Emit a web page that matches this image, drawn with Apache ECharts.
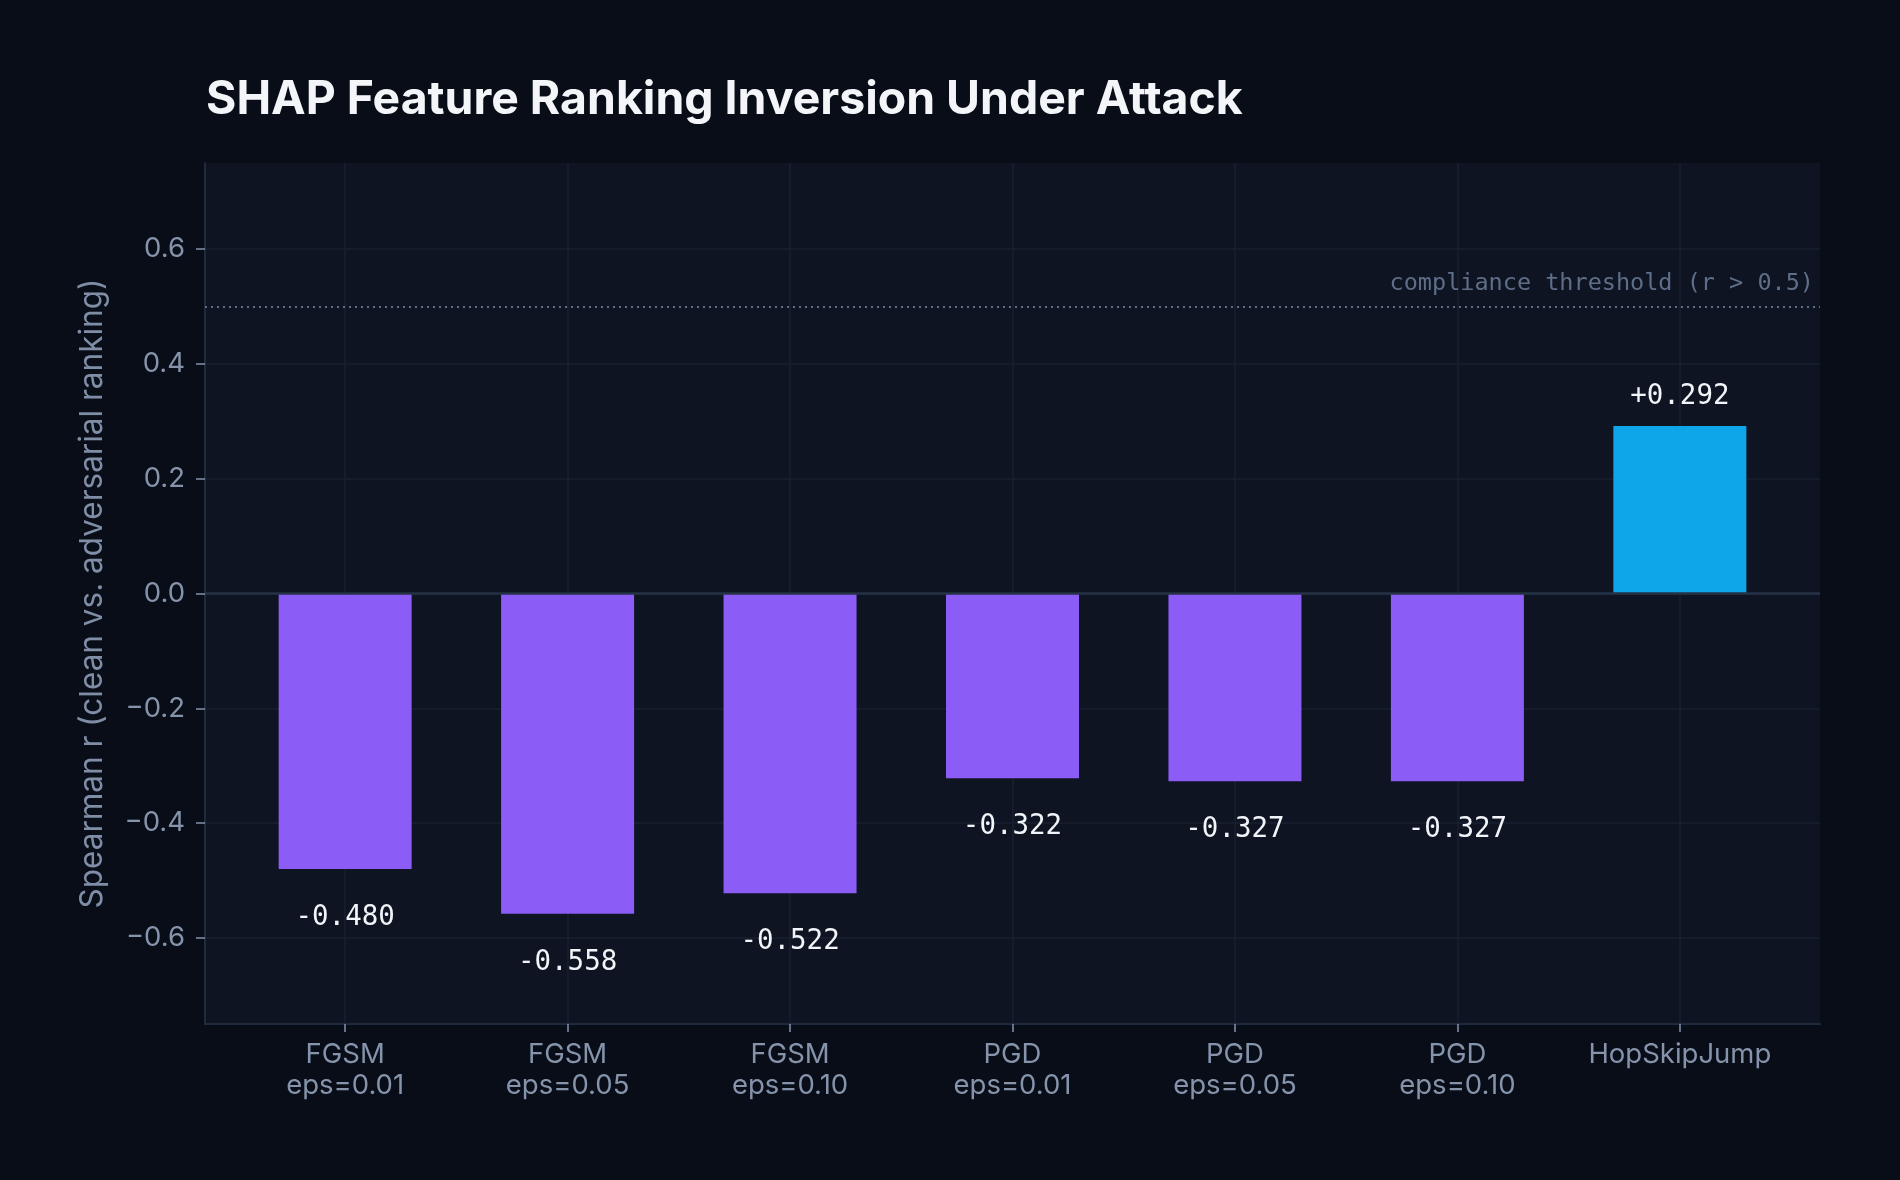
<!DOCTYPE html>
<html>
<head>
<meta charset="utf-8">
<script src="https://cdn.jsdelivr.net/npm/echarts@6/dist/echarts.min.js"></script>
<style>
html,body{margin:0;padding:0;background:#080d17;}
#chart{width:1900px;height:1180px;}
</style>
</head>
<body>
<div id="chart"></div>
<script>
const categories = ["FGSM\neps=0.01","FGSM\neps=0.05","FGSM\neps=0.10","PGD\neps=0.01","PGD\neps=0.05","PGD\neps=0.10","HopSkipJump"];
const values = [-0.480, -0.558, -0.522, -0.322, -0.327, -0.327, 0.292];
const yTicks = [-0.6, -0.4, -0.2, 0.0, 0.2, 0.4, 0.6];
const threshold = 0.5;
const titleText = "SHAP Feature Ranking Inversion Under Attack";
const yName = "Spearman r (clean vs. adversarial ranking)";
const thresholdLabel = "compliance threshold (r > 0.5)";

const xIdx = categories.map((c, i) => i);
const chart = echarts.init(document.getElementById('chart'), null, {renderer: 'canvas'});

const barData = values.map((v, i) => ({
  value: [i, v],
  itemStyle: {color: v >= 0 ? '#0ea5e9' : '#8b5cf6'},
  label: {
    position: v >= 0 ? 'top' : 'bottom',
    distance: v >= 0 ? 15 : 35
  }
}));

const option = {
  backgroundColor: '#080d17',
  animation: false,
  title: {
    text: titleText,
    left: 201,
    top: 72,
    textStyle: {color: '#f3f5f9', fontSize: 46.4, fontWeight: 'bold', fontFamily: 'Inter'}
  },
  grid: {
    left: 205, right: 80, top: 163, bottom: 156,
    show: true, backgroundColor: '#0e1422', borderWidth: 0
  },
  xAxis: {
    type: 'value',
    min: -0.63, max: 6.63,
    axisLine: {show: true, onZero: false, lineStyle: {color: '#1f2b3d', width: 2}},
    axisTick: {show: true, customValues: xIdx, length: 8, lineStyle: {color: '#8593ab', width: 1.5}},
    axisLabel: {
      customValues: xIdx,
      formatter: v => categories[Math.round(v)] || '',
      color: '#8593ab', fontSize: 27.5, fontFamily: 'Inter', lineHeight: 31, margin: 15
    },
    splitLine: {show: true, lineStyle: {color: '#182131', width: 1.5}}
  },
  yAxis: {
    type: 'value',
    min: -0.75, max: 0.75,
    name: yName,
    nameLocation: 'middle',
    nameGap: 96,
    nameTextStyle: {color: '#7f8da6', fontSize: 31.5, fontFamily: 'Inter'},
    axisLine: {show: true, onZero: false, lineStyle: {color: '#1f2b3d', width: 2}},
    axisTick: {show: true, customValues: yTicks, length: 9, lineStyle: {color: '#8593ab', width: 1.5}},
    axisLabel: {
      customValues: yTicks,
      formatter: v => (Math.abs(v) < 1e-9 ? '0.0' : (v < 0 ? '\u2212' + Math.abs(v).toFixed(1) : v.toFixed(1))),
      color: '#8593ab', fontSize: 27.5, fontFamily: 'Inter', margin: 20
    },
    splitLine: {show: true, lineStyle: {color: '#182131', width: 1.5}}
  },
  series: [{
    type: 'bar',
    barWidth: 133,
    data: barData,
    label: {
      show: true,
      color: '#f1f5f9',
      fontSize: 27.5,
      fontFamily: 'DejaVu Sans Mono',
      formatter: p => (p.value[1] >= 0 ? '+' : '') + p.value[1].toFixed(3)
    },
    markLine: {
      silent: true,
      symbol: 'none',
      data: [
        {yAxis: 0, lineStyle: {color: '#253246', width: 2.5, type: 'solid'}, label: {show: false}},
        {yAxis: threshold, lineStyle: {color: '#5c6c86', width: 2, type: [2, 4]},
         label: {show: true, position: 'insideEndTop', formatter: thresholdLabel, color: '#5f6e88',
                 fontSize: 23.5, fontFamily: 'DejaVu Sans Mono', distance: [6, 11]}}
      ]
    },
    z: 3
  }]
};
chart.setOption(option);
</script>
</body>
</html>
